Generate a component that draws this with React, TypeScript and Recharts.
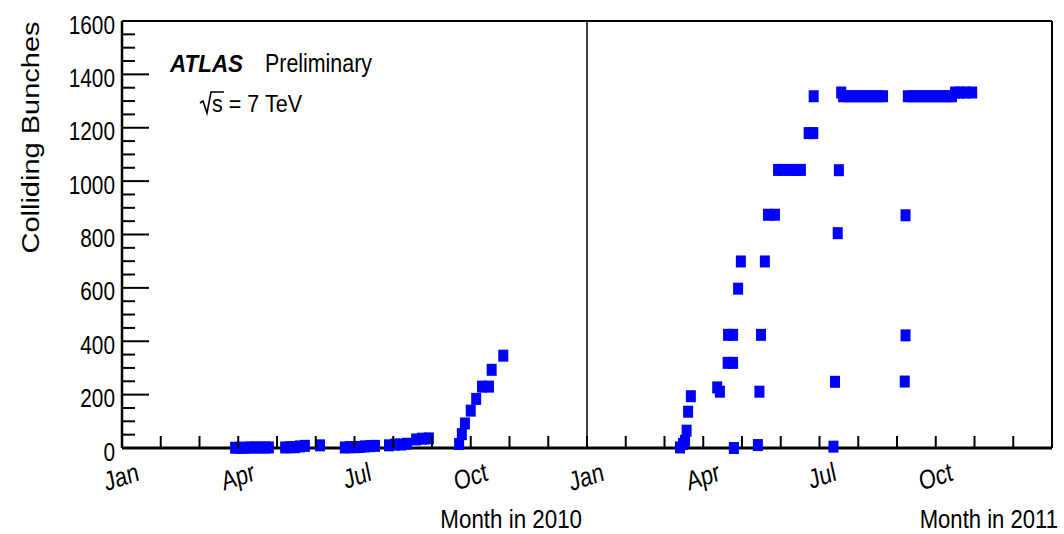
import { ScatterChart, Scatter, XAxis, YAxis, ReferenceLine } from 'recharts';

const FONT = '"Liberation Sans", Arial, Helvetica, sans-serif';
const BLUE = '#0000ff';

// x = months since 1 Jan 2010, y = colliding bunches per fill
const months2010 = [
  2.92, 3.05, 3.17, 3.3, 3.43, 3.56, 3.69, 3.79,
  4.21, 4.34, 4.46, 4.59, 4.72,
  5.11,
  5.75, 5.88, 6.01, 6.14, 6.27, 6.4, 6.53,
  6.89, 7.05, 7.2, 7.35,
  7.59, 7.74, 7.92,
  8.7, 8.77, 8.85, 9.0, 9.14, 9.29, 9.47, 9.54, 9.84,
];
const bunches2010 = [
  1, 1, 1, 2, 2, 2, 2, 2,
  2, 3, 3, 6, 8,
  10,
  2, 3, 3, 4, 6, 7, 8,
  10, 13, 13, 16,
  32, 35, 36,
  15, 52, 92, 140, 184, 230, 230, 293, 346,
];

const months2011 = [
  14.4, 14.48, 14.53, 14.57, 14.61, 14.68,
  15.36, 15.43, 15.63, 15.77, 15.64, 15.77, 15.79, 15.9, 15.97,
  16.41, 16.45, 16.49, 16.59, 16.67, 16.85,
  16.93, 17.08, 17.24, 17.39, 17.52,
  17.72, 17.84, 17.85,
  18.36, 18.4, 18.47, 18.5, 18.56,
  18.61, 18.74, 18.86, 18.99, 19.12, 19.25, 19.38, 19.51, 19.64,
  20.2, 20.22, 20.22,
  20.28, 20.41, 20.54, 20.67, 20.8, 20.93, 21.06, 21.19, 21.32, 21.42,
  21.5, 21.63, 21.78, 21.94,
];
const bunches2011 = [
  2, 15, 27, 65, 136, 194,
  227, 211, 319, 319, 424, 424, 0, 597, 699,
  11, 211, 424, 699, 874, 874,
  1042, 1042, 1042, 1042, 1042,
  1180, 1180, 1318,
  5, 248, 805, 1041, 1332,
  1318, 1318, 1318, 1318, 1318, 1318, 1318, 1318, 1318,
  249, 422, 872,
  1318, 1318, 1318, 1318, 1318, 1318, 1318, 1318, 1318, 1318,
  1332, 1332, 1332, 1332,
];

const monthTicks = [0, 1, 2, 3, 4, 5, 6, 7, 8, 9, 10, 11, 12, 13, 14, 15, 16, 17, 18, 19, 20, 21, 22, 23, 24];
const quarterNames = ['Jan', 'Apr', 'Jul', 'Oct'];
const bunchTicks = Array.from({ length: 33 }, (_, i) => i * 50);

const fills = [
  ...months2010.map((m, i) => ({ month: m, bunches: bunches2010[i] })),
  ...months2011.map((m, i) => ({ month: m, bunches: bunches2011[i] })),
];

function Marker({ cx, cy }: any) {
  return <rect x={cx - 5} y={cy - 6} width={10} height={12} fill={BLUE} />;
}

function BottomTick({ x, y, payload }: any) {
  const m = payload.value;
  const label = m % 3 === 0 && m < 24 ? quarterNames[(m / 3) % 4] : null;
  return (
    <g>
      {m > 0 && m < 24 && <line x1={x} y1={y} x2={x} y2={y - 12} stroke="#000" strokeWidth={2} />}
      {label && (
        <text
          transform={`translate(${x + 18},${y + 32}) scale(0.8,1) rotate(-15)`}
          textAnchor="end"
          fontSize={27}
          fontFamily={FONT}
          fill="#000"
        >
          {label}
        </text>
      )}
    </g>
  );
}

function TopTick({ x, y, payload }: any) {
  const m = payload.value;
  if (m <= 0 || m >= 24) return <g />;
  return <line x1={x} y1={y} x2={x} y2={y + 13} stroke="#000" strokeWidth={2} />;
}

function LeftTick({ x, y, payload }: any) {
  const v = payload.value;
  const major = v % 200 === 0;
  return (
    <g>
      {v > 0 && v < 1600 && (
        <line x1={x} y1={y} x2={x + (major ? 27 : 13)} y2={y} stroke="#000" strokeWidth={2} />
      )}
      {major && (
        <text
          transform={`translate(${x - 7},${y + 12.5}) scale(0.8,1)`}
          textAnchor="end"
          fontSize={26}
          fontFamily={FONT}
          fill="#000"
        >
          {v}
        </text>
      )}
    </g>
  );
}

function RightTick({ x, y, payload }: any) {
  const v = payload.value;
  if (v <= 0 || v >= 1600) return <g />;
  const major = v % 200 === 0;
  return <line x1={x} y1={y} x2={x - (major ? 27 : 13)} y2={y} stroke="#000" strokeWidth={2} />;
}

export default function App() {
  return (
    <div style={{ position: 'absolute', left: 0, top: 0, width: 1064, height: 534, background: '#fff' }}>
      <ScatterChart width={1064} height={534} margin={{ top: 0, right: 0, bottom: 0, left: 0 }}>
        <XAxis
          xAxisId="b"
          type="number"
          dataKey="month"
          domain={[0, 24]}
          ticks={monthTicks}
          interval={0}
          orientation="bottom"
          height={86}
          tickSize={0}
          tickMargin={0}
          tickLine={false}
          axisLine={{ stroke: '#000', strokeWidth: 3 }}
          tick={BottomTick}
        />
        <XAxis
          xAxisId="t"
          type="number"
          dataKey="month"
          domain={[0, 24]}
          ticks={monthTicks}
          interval={0}
          orientation="top"
          height={21}
          tickSize={0}
          tickMargin={0}
          tickLine={false}
          axisLine={{ stroke: '#000', strokeWidth: 2 }}
          tick={TopTick}
        />
        <YAxis
          yAxisId="l"
          type="number"
          dataKey="bunches"
          domain={[0, 1600]}
          ticks={bunchTicks}
          interval={0}
          orientation="left"
          width={122}
          tickSize={0}
          tickMargin={0}
          tickLine={false}
          axisLine={{ stroke: '#000', strokeWidth: 2.5 }}
          tick={LeftTick}
        />
        <YAxis
          yAxisId="r"
          type="number"
          dataKey="bunches"
          domain={[0, 1600]}
          ticks={bunchTicks}
          interval={0}
          orientation="right"
          width={12}
          tickSize={0}
          tickMargin={0}
          tickLine={false}
          axisLine={{ stroke: '#000', strokeWidth: 2 }}
          tick={RightTick}
        />
        <ReferenceLine xAxisId="b" yAxisId="l" x={12} stroke="#000" strokeWidth={1.5} />
        <Scatter
          data={fills}
          xAxisId="b"
          yAxisId="l"
          dataKey="bunches"
          fill={BLUE}
          shape={Marker}
          isAnimationActive={false}
        />
      </ScatterChart>
      <svg
        width={1064}
        height={534}
        style={{ position: 'absolute', left: 0, top: 0, pointerEvents: 'none' }}
        fontFamily={FONT}
      >
        <text
          transform="translate(38.5,137.5) scale(0.8,1) rotate(-90)"
          textAnchor="middle"
          fontSize={29}
          fill="#000"
        >
          Colliding Bunches
        </text>
        <text x={170} y={72} fontSize={24} fontWeight="bold" fontStyle="italic" textLength={73} lengthAdjust="spacingAndGlyphs">
          ATLAS
        </text>
        <text x={265} y={72} fontSize={25} textLength={107} lengthAdjust="spacingAndGlyphs">
          Preliminary
        </text>
        {/* radical drawn as a path so its bar runs over the s */}
        <path d="M200,103 L203,101 L207,113 L211,92 L224,92" fill="none" stroke="#000" strokeWidth={1.6} />
        <text x={212} y={112} fontSize={24} textLength={90} lengthAdjust="spacingAndGlyphs">
          s = 7 TeV
        </text>
        <text transform="translate(582,528) scale(0.86,1)" textAnchor="end" fontSize={26}>
          Month in 2010
        </text>
        <text transform="translate(1058,528) scale(0.85,1)" textAnchor="end" fontSize={26}>
          Month in 2011
        </text>
      </svg>
    </div>
  );
}
